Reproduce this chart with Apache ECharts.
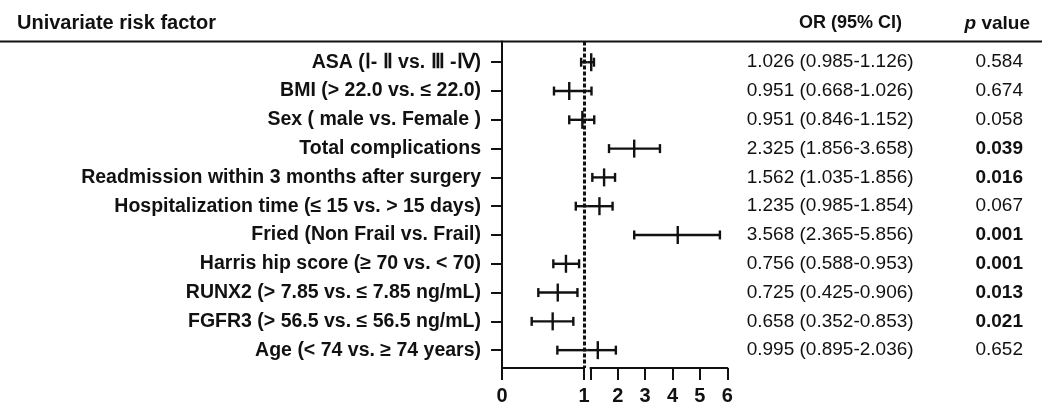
<!DOCTYPE html>
<html>
<head>
<meta charset="utf-8">
<script src="https://cdn.jsdelivr.net/npm/echarts@6.0.0/dist/echarts.min.js"></script>
<style>
  html, body { margin: 0; padding: 0; background: #fff; }
  #forest { width: 1042px; height: 407px; }
</style>
</head>
<body>
<div id="forest"></div>
<script>
var categories = [
  'ASA (Ⅰ- Ⅱ vs. Ⅲ -Ⅳ)',
  'BMI (> 22.0 vs. ≤ 22.0)',
  'Sex ( male vs. Female )',
  'Total complications',
  'Readmission within 3 months after surgery',
  'Hospitalization time (≤ 15 vs. > 15 days)',
  'Fried (Non Frail vs. Frail)',
  'Harris hip score (≥ 70 vs. < 70)',
  'RUNX2 (> 7.85 vs. ≤ 7.85 ng/mL)',
  'FGFR3 (> 56.5 vs. ≤ 56.5 ng/mL)',
  'Age (< 74 vs. ≥ 74 years)'
];
// plotted positions
var ciLow  = [0.965, 0.634, 0.82, 1.68, 1.07, 0.90, 2.60, 0.626, 0.443, 0.362, 0.675];
var orMid  = [1.03,  0.82,  0.98, 2.60, 1.50, 1.33, 4.19, 0.78,  0.68,  0.618, 1.27];
var ciHigh = [1.13,  1.04,  1.14, 3.54, 1.90, 1.81, 5.73, 0.94,  0.92,  0.87,  1.93];
var orText = [
  '1.026 (0.985-1.126)', '0.951 (0.668-1.026)', '0.951 (0.846-1.152)',
  '2.325 (1.856-3.658)', '1.562 (1.035-1.856)', '1.235 (0.985-1.854)',
  '3.568 (2.365-5.856)', '0.756 (0.588-0.953)', '0.725 (0.425-0.906)',
  '0.658 (0.352-0.853)', '0.995 (0.895-2.036)'
];
var pText = ['0.584', '0.674', '0.058', '0.039', '0.016', '0.067', '0.001', '0.001', '0.013', '0.021', '0.652'];
var pSignificant = [false, false, false, true, true, false, true, true, true, true, false];
var rowIndex = categories.map(function (c, i) { return i; });
var rightTicks = [1, 2, 3, 4, 5, 6];
var rightLabels = [2, 3, 4, 5, 6];

var FONT = '"Liberation Sans", Arial, sans-serif';
var INK = '#111';
var GAP = 6.4;   // px between the two broken axis segments
var CAP = 4.5;   // half height of whisker caps
var MID = 9;     // half height of the OR tick

var forestData = rowIndex.map(function (i) {
  return [ciLow[i], orMid[i], ciHigh[i], i];
});

function seg(x1, y1, x2, y2) {
  return { type: 'line', shape: { x1: x1, y1: y1, x2: x2, y2: y2 },
           style: { stroke: INK, lineWidth: 2.4 } };
}

function renderSide(side) {
  return function (params, api) {
    var lo = api.value(0), mid = api.value(1), hi = api.value(2), row = api.value(3);
    var y = api.coord([1, row])[1];
    var px = function (v) { return api.coord([v, row])[0]; };
    var kids = [];
    if (side === 'left') {
      if (lo < 1) {
        var end = hi > 1 ? px(1) + GAP / 2 : px(hi);
        kids.push(seg(px(lo), y, end, y));
        kids.push(seg(px(lo), y - CAP, px(lo), y + CAP));
        if (hi <= 1) kids.push(seg(px(hi), y - CAP, px(hi), y + CAP));
      }
      if (mid <= 1) kids.push(seg(px(mid), y - MID, px(mid), y + MID));
    } else {
      if (hi > 1) {
        var start = lo < 1 ? px(1) - GAP / 2 : px(lo);
        kids.push(seg(start, y, px(hi), y));
        kids.push(seg(px(hi), y - CAP, px(hi), y + CAP));
        if (lo >= 1) kids.push(seg(px(lo), y - CAP, px(lo), y + CAP));
      }
      if (mid > 1) kids.push(seg(px(mid), y - MID, px(mid), y + MID));
    }
    return { type: 'group', children: kids };
  };
}

var rowAxisBase = {
  type: 'value', min: -0.72, max: 10.62, inverse: true,
  splitLine: { show: false }
};

var myChart = echarts.init(document.getElementById('forest'));
var option = {
  animation: false,
  title: [
    { text: 'Univariate risk factor', left: 17, top: 13, padding: 0,
      textStyle: { fontFamily: FONT, fontSize: 20, fontWeight: 'bold', color: INK } },
    { text: 'OR (95% CI)', left: 799, top: 14, padding: 0,
      textStyle: { fontFamily: FONT, fontSize: 18, fontWeight: 'bold', color: INK } },
    { text: '{i|p} value', right: 12, top: 14, padding: 0,
      textStyle: { fontFamily: FONT, fontSize: 19, fontWeight: 'bold', color: INK,
        rich: { i: { fontFamily: FONT, fontSize: 19, fontWeight: 'bold', fontStyle: 'italic', color: INK } } } }
  ],
  graphic: [
    { type: 'line', shape: { x1: 0, y1: 41.5, x2: 1042, y2: 41.5 },
      style: { stroke: INK, lineWidth: 2 } }
  ],
  grid: [
    { left: 502, width: 82, top: 41.5, bottom: 39 },
    { left: 590.4, right: 314.7, top: 41.5, bottom: 39 }
  ],
  xAxis: [
    { gridIndex: 0, type: 'value', min: 0, max: 1, interval: 1, position: 'bottom',
      axisLine: { onZero: false, lineStyle: { color: INK, width: 2 } },
      axisTick: { length: 12, lineStyle: { color: INK, width: 2 } },
      axisLabel: { margin: 18, fontFamily: FONT, fontSize: 20, fontWeight: 'bold', color: INK },
      splitLine: { show: false } },
    { gridIndex: 1, type: 'value', min: 1, max: 6, position: 'bottom',
      axisLine: { onZero: false, lineStyle: { color: INK, width: 2 } },
      axisTick: { length: 12, customValues: rightTicks, lineStyle: { color: INK, width: 2 } },
      axisLabel: { margin: 18, customValues: rightLabels, fontFamily: FONT, fontSize: 20, fontWeight: 'bold', color: INK },
      splitLine: { show: false } }
  ],
  yAxis: [
    Object.assign({}, rowAxisBase, {
      gridIndex: 0, position: 'left',
      axisLine: { show: true, onZero: false, lineStyle: { color: INK, width: 2 } },
      axisTick: { show: true, length: 11, customValues: rowIndex, lineStyle: { color: INK, width: 2 } },
      axisLabel: { customValues: rowIndex, margin: 21, fontFamily: FONT, fontSize: 19.5, fontWeight: 'bold', color: INK,
        formatter: function (v) { return categories[v]; } }
    }),
    Object.assign({}, rowAxisBase, {
      gridIndex: 1, position: 'right',
      axisLine: { show: false, onZero: false }, axisTick: { show: false },
      axisLabel: { customValues: rowIndex, margin: 19.4, fontFamily: FONT, fontSize: 19, color: INK,
        formatter: function (v) { return orText[v]; } }
    }),
    Object.assign({}, rowAxisBase, {
      gridIndex: 1, position: 'right',
      axisLine: { show: false, onZero: false }, axisTick: { show: false },
      axisLabel: { customValues: rowIndex, margin: 295.7, align: 'right', fontFamily: FONT, fontSize: 19, color: INK,
        formatter: function (v) { return (pSignificant[v] ? '{b|' : '{n|') + pText[v] + '}'; },
        rich: {
          b: { fontFamily: FONT, fontSize: 19, fontWeight: 'bold', color: INK },
          n: { fontFamily: FONT, fontSize: 19, color: INK }
        } }
    })
  ],
  series: [
    { type: 'custom', name: 'left', xAxisIndex: 0, yAxisIndex: 0, clip: false,
      renderItem: renderSide('left'), encode: { x: [0, 1, 2], y: 3 }, data: forestData,
      markLine: { silent: true, symbol: 'none', label: { show: false },
        lineStyle: { color: INK, width: 3, type: [4, 2] },
        data: [{ xAxis: 1 }] } },
    { type: 'custom', name: 'right', xAxisIndex: 1, yAxisIndex: 1, clip: false,
      renderItem: renderSide('right'), encode: { x: [0, 1, 2], y: 3 }, data: forestData }
  ]
};
myChart.setOption(option);
window.addEventListener('resize', function () { myChart.resize(); });
</script>
</body>
</html>
